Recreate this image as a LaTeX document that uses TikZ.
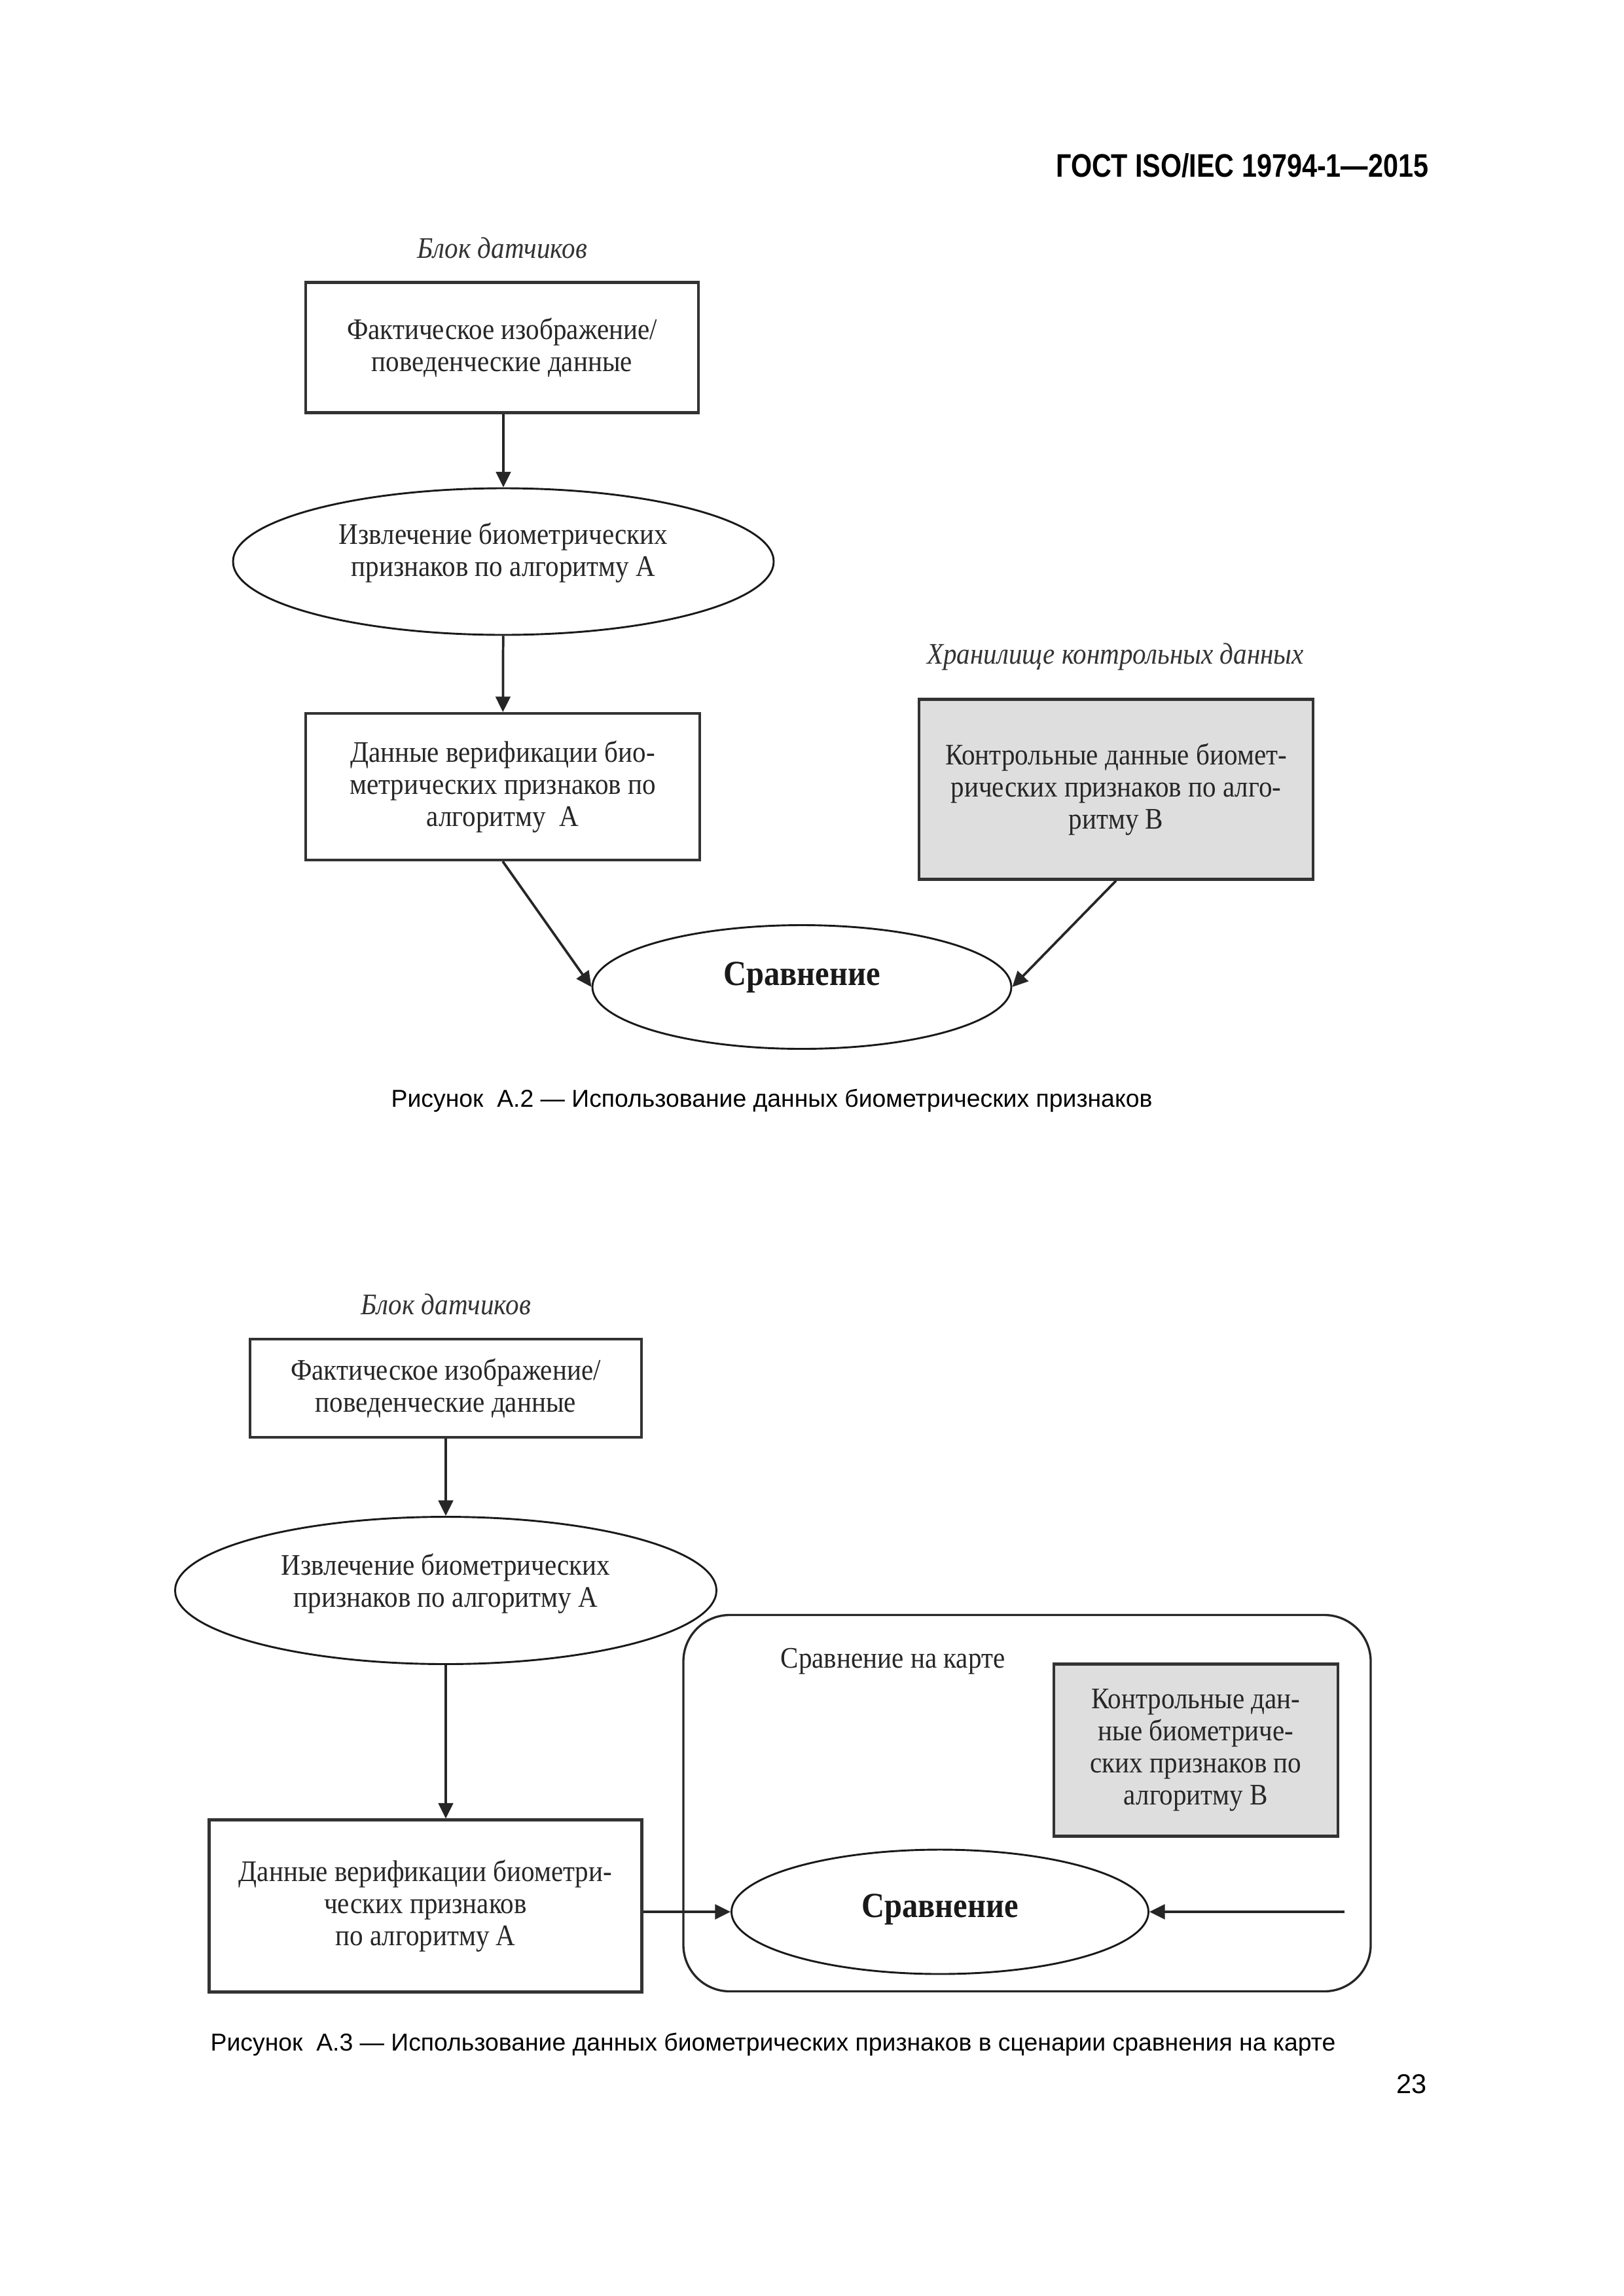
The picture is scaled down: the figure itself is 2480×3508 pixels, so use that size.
\documentclass[tikz,border=0pt]{standalone}
\usepackage{fontspec}
\setmainfont{Liberation Serif}
\newfontfamily\diagfont[FakeStretch=0.9]{Liberation Serif}
\newfontfamily\capfont{Liberation Sans}
\newfontfamily\headfont[FakeStretch=0.83]{Liberation Sans}
\usetikzlibrary{shapes.geometric, arrows.meta, positioning}

% one pixel of the A4 page scan
\newlength{\pxu}
\setlength{\pxu}{0.0084677cm}
% raise a line of text without changing its box
\newcommand\liftby[2]{\raisebox{#1}[\height][\depth]{#2}}

\begin{document}
\begin{tikzpicture}[
    x=\pxu, y=-\pxu,
    block/.style={rectangle, draw=black!80, line width=1pt, fill=white, align=center, inner sep=0pt, text=black!85, font=\diagfont\fontsize{11}{11.8}\selectfont},
    refblock/.style={block, fill=black!13},
    oval/.style={ellipse, draw=black!90, line width=0.7pt, align=center, inner sep=0pt, text=black!85, font=\diagfont\fontsize{11}{11.8}\selectfont},
    cmpoval/.style={oval, text=black!90, font=\diagfont\fontsize{13}{14}\selectfont\bfseries},
    groupnote/.style={font=\diagfont\fontsize{11}{12}\selectfont\itshape, text=black!80},
    figcaption/.style={font=\capfont\fontsize{9}{11}\selectfont},
    arrow/.style={-{Triangle[length=2mm, width=1.9mm]}, line width=0.9pt, black!85}
]
\useasboundingbox[fill=white] (0,0) rectangle (2480,3508);

% Header
\node[anchor=east, inner sep=0pt, font=\headfont\fontsize{12}{14}\selectfont\bfseries] (hdr) at (2183,253) {ГОСТ ISO/IEC 19794-1—2015};

% Figure A.2
\node[block, minimum width=600\pxu, minimum height=199\pxu] (fact1) at (767,531) {Фактическое изображение/\\поведенческие данные};
\node[groupnote, above=0.17cm of fact1] (sens1) {Блок датчиков};
\node[oval, minimum width=826\pxu, minimum height=224\pxu] (extr1) at (769,858) {\liftby{13\pxu}{Извлечение биометрических}\\\liftby{13\pxu}{признаков по алгоритму А}};
\node[block, minimum width=602\pxu, minimum height=224\pxu] (verif1) at (768,1202) {Данные верификации био-\\метрических признаков по\\алгоритму~~А};
\node[refblock, minimum width=602\pxu, minimum height=275\pxu] (ref1) at (1705,1206) {Контрольные данные биомет-\\рических признаков по алго-\\ритму В};
\node[groupnote] (store1) at (1704,1004) {Хранилище контрольных данных};
\node[cmpoval, minimum width=640\pxu, minimum height=189\pxu] (cmp1) at (1225,1508) {\liftby{15\pxu}{Сравнение}};

\draw[arrow] (fact1.south -| extr1) -- (extr1);
\draw[arrow] (extr1) -- (verif1);
\draw[arrow] (verif1.south) -- (cmp1.west);
\draw[arrow] (ref1.south) -- (cmp1.east);

\node[figcaption] (cap1) at (1179,1682) {Рисунок~~А.2 — Использование данных биометрических признаков};

% Figure A.3
\node[block, minimum width=598\pxu, minimum height=150\pxu] (fact2) at (681,2121) {Фактическое изображение/\\поведенческие данные};
\node[groupnote, above=0.17cm of fact2] (sens2) {Блок датчиков};
\node[oval, minimum width=827\pxu, minimum height=225\pxu] (extr2) at (681,2430) {\liftby{10\pxu}{Извлечение биометрических}\\\liftby{10\pxu}{признаков по алгоритму А}};
\node[block, minimum width=661\pxu, minimum height=263\pxu] (verif2) at (650,2912) {Данные верификации биометри-\\ческих признаков\\по алгоритму А};

\node[rectangle, rounded corners=0.6cm, draw=black!85, line width=0.8pt, minimum width=1050\pxu, minimum height=575\pxu] (card) at (1569,2755) {};
\node[font=\diagfont\fontsize{11}{12}\selectfont, text=black!85] (cardlbl) at (1364,2538) {Сравнение на карте};
\node[refblock, minimum width=434\pxu, minimum height=263\pxu] (ref2) at (1827,2674) {Контрольные дан-\\ные биометриче-\\ских признаков по\\алгоритму В};
\node[cmpoval, minimum width=637\pxu, minimum height=190\pxu] (cmp2) at (1436,2921) {\liftby{4\pxu}{Сравнение}};
\coordinate (refin) at (2054,2921);

\draw[arrow] (fact2.south -| extr2) -- (extr2);
\draw[arrow] (extr2.south) -- (extr2.south |- verif2.north);
\draw[arrow] (verif2.east |- cmp2) -- (cmp2.west);
\draw[arrow] (refin) -- (cmp2.east);

\node[figcaption] (cap2) at (1181,3124) {Рисунок~~А.3 — Использование данных биометрических признаков в сценарии сравнения на карте};

\node[anchor=east, inner sep=0pt, font=\capfont\fontsize{10}{12}\selectfont] (pg) at (2180,3184) {23};
\end{tikzpicture}
\end{document}
